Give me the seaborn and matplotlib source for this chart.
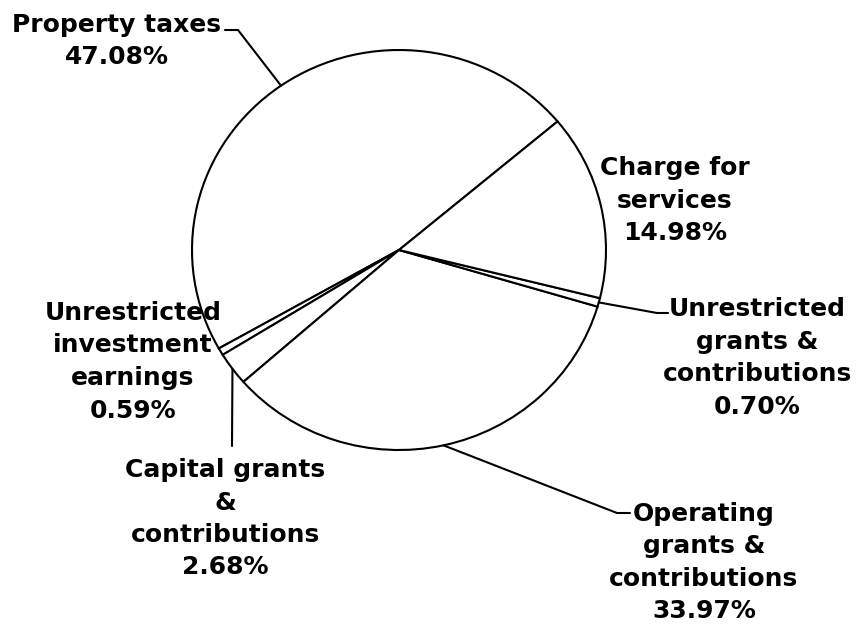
"""
Revenue sources pie -- white wedges, black outlines, labels with leader lines.
Writes out.png (858x624).
"""

import matplotlib
matplotlib.use("Agg")
import matplotlib.pyplot as plt
from matplotlib.lines import Line2D
import numpy as np
import seaborn as sns

sns.set_theme(style="white")
plt.rcParams["font.family"] = ["DejaVu Sans"]

W, H = 858, 624

# data, in the order the wedges run (counter-clockwise from the top-right cut)
CATEGORIES = ["Property taxes", "Unrestricted investment earnings",
              "Capital grants & contributions", "Operating grants & contributions",
              "Unrestricted grants & contributions", "Charge for services"]
SHARES = [47.08, 0.59, 2.68, 33.97, 0.70, 14.98]
LABEL_LINES = [["Property taxes"],
               ["Unrestricted", "investment", "earnings"],
               ["Capital grants", "&", "contributions"],
               ["Operating", "grants &", "contributions"],
               ["Unrestricted", "grants &", "contributions"],
               ["Charge for", "services"]]

# label placement in pixels (top-left origin): centre x, first baseline, leader elbows
LAYOUT = {
    "Property taxes": (117, 32, [(225, 30), (238, 30)]),
    "Unrestricted investment earnings": (133, 320, []),
    "Capital grants & contributions": (225, 477, [(232, 446)]),
    "Operating grants & contributions": (704, 521, [(630, 513), (617, 513)]),
    "Unrestricted grants & contributions": (757, 316, [(668, 313), (657, 313)]),
    "Charge for services": (675, 175, []),
}
LINE_STEP = 32.5
CX, CY, RX, RY = 399, 250, 207, 200   # pie centre / radii in pixels
PAD = 1.1
LW = 1.5


def fx(x):
    return x / W


def fy(y):
    return 1 - y / H


fig = plt.figure(figsize=(W / 100, H / 100), dpi=100)
ax = fig.add_axes([fx(CX - PAD * RX), fy(CY + PAD * RY),
                   2 * PAD * RX / W, 2 * PAD * RY / H])
wedges, _ = ax.pie(SHARES, startangle=40, counterclock=True,
                   colors=["white"] * len(SHARES),
                   wedgeprops=dict(edgecolor="black", linewidth=LW))
ax.set_aspect("auto")
ax.set_xlim(-PAD, PAD)
ax.set_ylim(-PAD, PAD)
ax.axis("off")

fig.canvas.draw()
to_fig = ax.transData + fig.transFigure.inverted()

for cat, share, lines, w in zip(CATEGORIES, SHARES, LABEL_LINES, wedges):
    x, y0, elbows = LAYOUT[cat]
    for i, s in enumerate(lines + [f"{share:.2f}%"]):
        fig.text(fx(x), fy(y0 + i * LINE_STEP), s, ha="center", va="baseline",
                 fontsize=18, fontweight="bold", color="black")
    if elbows:
        mid = np.deg2rad((w.theta1 + w.theta2) / 2)
        px, py = to_fig.transform((np.cos(mid), np.sin(mid)))
        xs = [fx(e[0]) for e in elbows] + [px]
        ys = [fy(e[1]) for e in elbows] + [py]
        fig.add_artist(Line2D(xs, ys, transform=fig.transFigure,
                              color="black", lw=LW))

fig.savefig("out.png", dpi=100, facecolor="white")
